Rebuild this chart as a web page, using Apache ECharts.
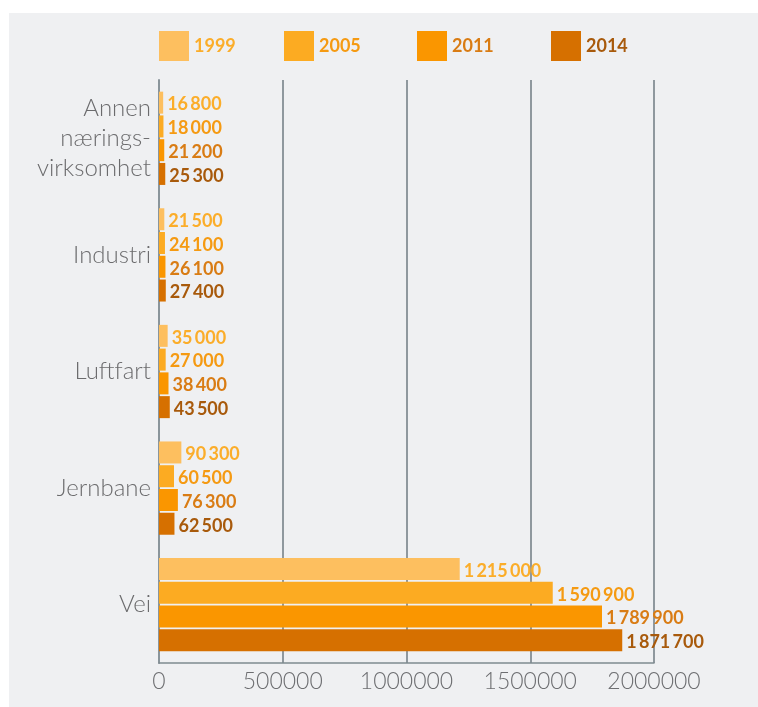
<!DOCTYPE html>
<html><head><meta charset="utf-8">
<script src="https://cdn.jsdelivr.net/npm/echarts@6/dist/echarts.min.js"></script>
<style>html,body{margin:0;padding:0;background:#fff}#c{width:758px;height:707px}</style>
</head><body><div id="c"></div>
<script>
const categories = ['Annen\nnærings-\nvirksomhet', 'Industri', 'Luftfart', 'Jernbane', 'Vei'];
const years = ['1999', '2005', '2011', '2014'];
const v1999 = [16800, 21500, 35000, 90300, 1215000];
const v2005 = [18000, 24100, 27000, 60500, 1590900];
const v2011 = [21200, 26100, 38400, 76300, 1789900];
const v2014 = [25300, 27400, 43500, 62500, 1871700];
const xTicks = [0, 500000, 1000000, 1500000, 2000000];

const values = [v1999, v2005, v2011, v2014];
const barColors = ['#fdbf5f', '#fcab22', '#fa9600', '#d67000'];
const textColors = ['#fbad2a', '#f59a12', '#d97c14', '#a85a0c'];
const legendLeft = [159, 284, 417, 551];

function fmt(n) { return String(n).replace(/\B(?=(\d{3})+(?!\d))/g, '\u2009'); }

const catData = categories.map(c => c.indexOf('\n') >= 0
  ? {value: c, textStyle: {padding: [0, 0, 6, 0]}} : c);

const chart = echarts.init(document.getElementById('c'), null, {renderer: 'canvas'});
const font = 'Lato, "Open Sans", sans-serif';
chart.setOption({
  animation: false,
  backgroundColor: '#ffffff',
  graphic: [{type: 'rect', z: -10, shape: {x: 9, y: 13, width: 760, height: 700}, style: {fill: '#eff0f2'}}],
  legend: years.map((y, i) => ({
    left: legendLeft[i], top: 31, itemWidth: 30, itemHeight: 30, itemGap: 0, padding: 0,
    icon: 'rect',
    data: [{name: y, textStyle: {color: textColors[i]}}],
    textStyle: {fontFamily: font, fontWeight: 'bold', fontSize: 18, padding: [4, 0, 0, 0]},
    selectedMode: false
  })),
  grid: {left: 159, right: 104, top: 80, bottom: 44, containLabel: false},
  xAxis: {
    type: 'value', min: xTicks[0], max: xTicks[xTicks.length - 1], interval: xTicks[1] - xTicks[0],
    axisLine: {show: true, lineStyle: {color: '#7f8a90', width: 1.5}},
    axisTick: {show: false},
    splitLine: {show: true, lineStyle: {color: '#6f7b82', width: 1.5}},
    axisLabel: {color: '#6d6e71', fontFamily: font, fontWeight: 300, fontSize: 23, margin: 7,
      formatter: v => String(v)}
  },
  yAxis: {
    type: 'category', data: catData, inverse: true,
    axisLine: {show: true, lineStyle: {color: '#8a959b', width: 2}},
    axisTick: {show: false},
    axisLabel: {color: '#6b6b6d', fontFamily: font, fontWeight: 300, fontSize: 24, lineHeight: 30, margin: 8, align: 'right'}
  },
  series: years.map((y, i) => ({
    name: y, type: 'bar', data: values[i],
    barWidth: 22, barGap: '8%',
    itemStyle: {color: barColors[i]},
    label: {show: true, position: 'right', distance: 4, offset: [0, 2], color: textColors[i],
      fontFamily: font, fontWeight: 'bold', fontSize: 18,
      formatter: p => fmt(p.value)}
  }))
});
</script></body></html>
